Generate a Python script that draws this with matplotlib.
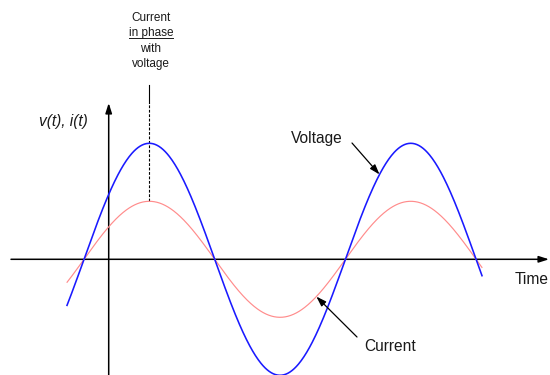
import numpy as np
import matplotlib
matplotlib.use("Agg")
import matplotlib.pyplot as plt
from matplotlib.lines import Line2D

# Phasor-style sketch: voltage and current of a purely resistive load
voltage_amplitude = 1.0
current_amplitude = 0.5
phase_shift_deg = 0.0            # current in phase with voltage
t_start_deg, t_end_deg = -23.8, 548.5
peak_marker_deg = 90.0

labels_top = ["Current", "in phase", "with", "voltage"]
axis_label_y = "v(t), i(t)"
axis_label_x = "Time"
voltage_label = "Voltage"
current_label = "Current"

W, H, DPI = 550, 375, 100
fig = plt.figure(figsize=(W / DPI, H / DPI), dpi=DPI)
ax = fig.add_axes([0, 0, 1, 1])
ax.set_axis_off()

# scale: degrees per pixel horizontally, amplitude units per pixel vertically
deg_per_px = 180.0 / 130.7
unit_per_px = 1.0 / 116.0
x0_px, y0_px = 84.0, 259.3
ax.set_xlim(-x0_px * deg_per_px, (W - x0_px) * deg_per_px)
ax.set_ylim(-(H - y0_px) * unit_per_px, y0_px * unit_per_px)

FONT = "Liberation Sans"
TXT = "#1a1a1a"

t = np.linspace(t_start_deg, t_end_deg, 600)
v = voltage_amplitude * np.sin(np.radians(t))
i = current_amplitude * np.sin(np.radians(t - phase_shift_deg))

ax.plot(t, i, color="#ff8c8c", lw=0.85, solid_capstyle="butt", zorder=3)
ax.plot(t, v, color="#1a1aff", lw=1.15, solid_capstyle="butt", zorder=4)

# coordinate axes
x_axis_left = (11 - x0_px) * deg_per_px
x_axis_right = (549 - x0_px) * deg_per_px
y_axis_x = (108.7 - x0_px) * deg_per_px
y_axis_top = (y0_px - 103) * unit_per_px
y_axis_bottom = -(H + 5 - y0_px) * unit_per_px
arrow_kw = dict(arrowstyle="-|>,head_length=0.5,head_width=0.16", lw=1.1,
                color="black", shrinkA=0, shrinkB=0, mutation_scale=12)
ax.annotate("", xy=(x_axis_right, 0), xytext=(x_axis_left, 0),
            arrowprops=arrow_kw, zorder=2)
ax.annotate("", xy=(y_axis_x, y_axis_top), xytext=(y_axis_x, y_axis_bottom),
            arrowprops=arrow_kw, zorder=2)

# marker through the common peak
marker_top = (y0_px - 84.5) * unit_per_px
marker_split = (y0_px - 103) * unit_per_px
ax.plot([peak_marker_deg, peak_marker_deg],
        [current_amplitude, marker_split],
        color="black", lw=0.8, ls=(0, (2.5, 1.5)), zorder=2)
ax.plot([peak_marker_deg, peak_marker_deg], [marker_split, marker_top],
        color="black", lw=0.8, zorder=2)


def fxy(px, py):
    return px / W, 1 - py / H


# stacked caption above the marker
baselines = [20.7, 36.0, 51.7, 66.7]
texts = []
for s, b in zip(labels_top, baselines):
    texts.append(fig.text(*fxy(151, b), s, ha="center", va="baseline",
                          fontsize=8.5, family=FONT, color=TXT))

fig.text(*fxy(39, 126.5), axis_label_y, ha="left", va="baseline",
         fontsize=11.2, family=FONT, style="italic", color=TXT)
fig.text(*fxy(515, 284), axis_label_x, ha="left", va="baseline",
         fontsize=11.2, family=FONT, color=TXT)

# labels with leader arrows onto each curve
lead_kw = dict(arrowstyle="-|>,head_length=0.6,head_width=0.2", lw=0.9,
               color="black", shrinkA=0, shrinkB=0, mutation_scale=10)
tv = 407.0
ax.annotate("", xy=(tv, voltage_amplitude * np.sin(np.radians(tv))),
            xytext=((352 - x0_px) * deg_per_px, (y0_px - 143) * unit_per_px),
            arrowprops=lead_kw, zorder=5)
fig.text(*fxy(291, 142.7), voltage_label, ha="left", va="baseline",
         fontsize=11.2, family=FONT, color=TXT)

tc = 320.0
ax.annotate("", xy=(tc, current_amplitude * np.sin(np.radians(tc - phase_shift_deg))),
            xytext=((357 - x0_px) * deg_per_px, (y0_px - 337) * unit_per_px),
            arrowprops=lead_kw, zorder=5)
fig.text(*fxy(364, 351), current_label, ha="left", va="baseline",
         fontsize=11.2, family=FONT, color=TXT)

# underline the "in phase" line
fig.canvas.draw()
bb = texts[1].get_window_extent()
uy = 1 - (baselines[1] + 1.8) / H
fig.add_artist(Line2D([bb.x0 / W, bb.x1 / W], [uy, uy],
                      transform=fig.transFigure, color=TXT, lw=0.7))

fig.savefig("out.png", dpi=DPI)
